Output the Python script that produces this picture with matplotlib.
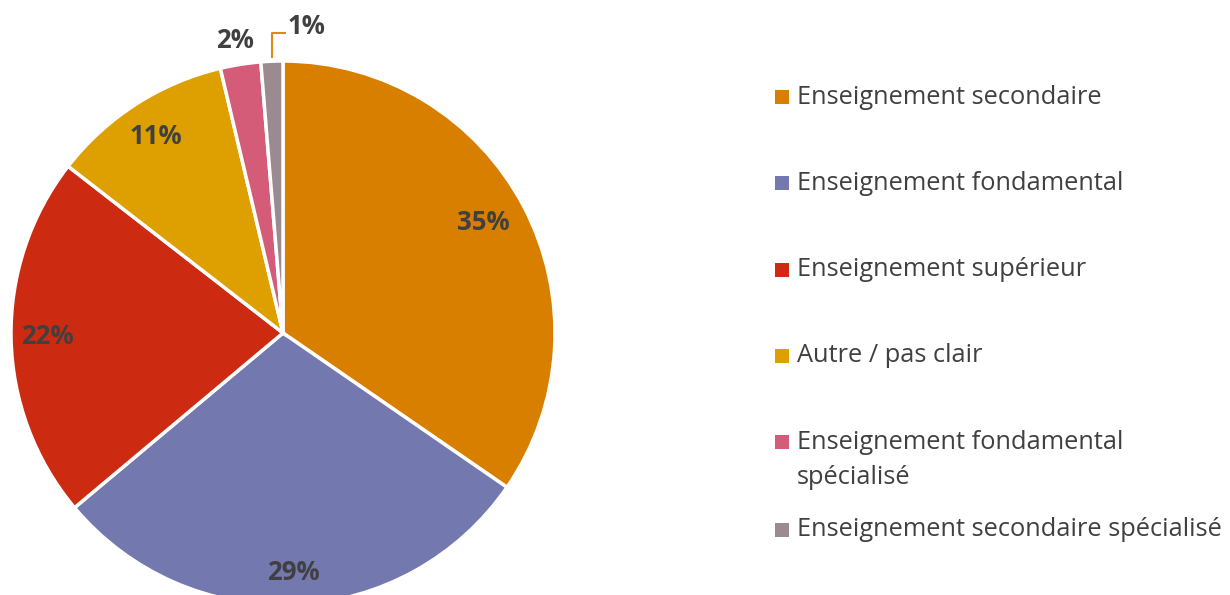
import matplotlib
matplotlib.use("Agg")
import matplotlib.pyplot as plt
from matplotlib.patches import Rectangle

categories = ["Enseignement secondaire", "Enseignement fondamental", "Enseignement supérieur",
              "Autre / pas clair", "Enseignement fondamental\nspécialisé",
              "Enseignement secondaire spécialisé"]
values = [34.6, 29.3, 21.6, 10.8, 2.4, 1.3]
labels = ["35%", "29%", "22%", "11%", "2%", "1%"]
colors = ["#D87F00", "#7378AE", "#CC2B12", "#DDA000", "#D45C78", "#9B8A90"]

W, H = 1230, 595
fig = plt.figure(figsize=(W / 100, H / 100), dpi=100)
ax = fig.add_axes([0, 0, 1, 1])
plt.rcParams['font.family'] = ['Open Sans', 'DejaVu Sans']

cx, cy, R = 283, H - 333, 272
wedges, _ = ax.pie(values, colors=colors, startangle=90, counterclock=False,
                   center=(cx, cy), radius=R,
                   wedgeprops=dict(edgecolor="white", linewidth=2.5))
ax.set_xlim(0, W)
ax.set_ylim(0, H)
ax.set_aspect("equal")
ax.axis("off")

txt = "#404040"
label_pos = [(483, 223), (293, 573), (47, 337), (156, 137), (235, 40), (306, 27)]
for lab, (x, y) in zip(labels, label_pos):
    ax.text(x, H - y, lab, ha="center", va="center", fontsize=18.5, fontweight="bold",
            color=txt, family=['Open Sans', 'DejaVu Sans'])

# leader line for 1%
ax.plot([272, 272, 286], [H - 58, H - 33, H - 33], color="#E08A10", lw=1.5,
        solid_capstyle="butt")

# legend
leg_y = [97, 183, 270, 356, 442, 530]
for name, c, y in zip(categories, colors, leg_y):
    ax.add_patch(Rectangle((775, H - y - 7), 14, 14, facecolor=c, edgecolor="none"))
    if "\n" in name:
        ax.text(797, H - y - 18, name, ha="left", va="center",
                fontsize=18.3, color=txt, linespacing=1.5,
                family=['Open Sans', 'DejaVu Sans'])
    else:
        ax.text(797, H - y, name, ha="left", va="center",
                fontsize=18.3, color=txt, family=['Open Sans', 'DejaVu Sans'])

fig.savefig("out.png", dpi=100)
